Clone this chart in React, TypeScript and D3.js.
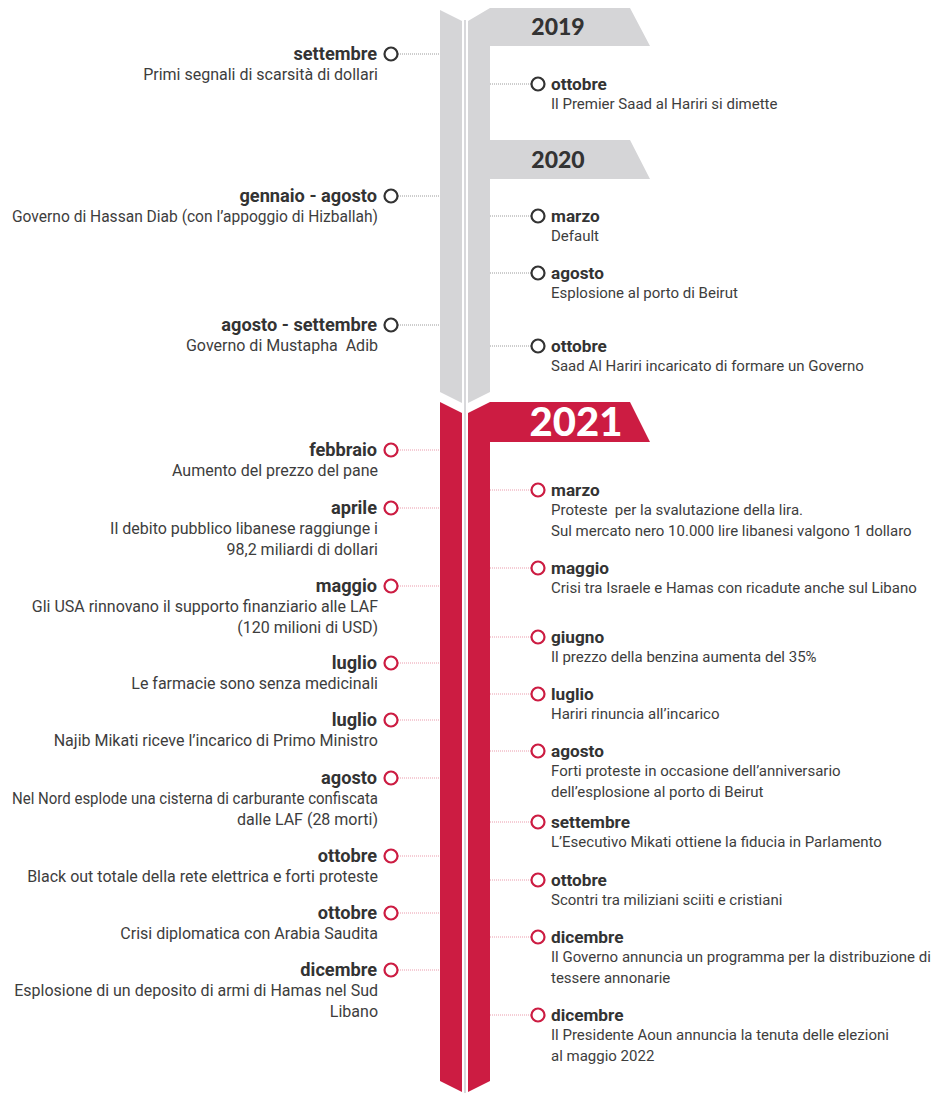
import React, { useEffect, useRef } from "react";
import * as d3 from "d3";

// timeline events, position = estimated vertical place on the timeline
const leftEvents = [
  { month: "settembre", text: ["Primi segnali di scarsità di dollari"], pos: 54, year: 2019 },
  { month: "gennaio - agosto", text: ["Governo di Hassan Diab (con l’appoggio di Hizballah)"], pos: 196, year: 2020 },
  { month: "agosto - settembre", text: ["Governo di Mustapha  Adib"], pos: 325, year: 2020 },
  { month: "febbraio", text: ["Aumento del prezzo del pane"], pos: 450, year: 2021 },
  { month: "aprile", text: ["Il debito pubblico libanese raggiunge i", "98,2 miliardi di dollari"], pos: 508, year: 2021 },
  { month: "maggio", text: ["Gli USA rinnovano il supporto finanziario alle LAF", "(120 milioni di USD)"], pos: 586, year: 2021 },
  { month: "luglio", text: ["Le farmacie sono senza medicinali"], pos: 663, year: 2021 },
  { month: "luglio", text: ["Najib Mikati riceve l’incarico di Primo Ministro"], pos: 720, year: 2021 },
  { month: "agosto", text: ["Nel Nord esplode una cisterna di carburante confiscata", "dalle LAF (28 morti)"], pos: 778, year: 2021 },
  { month: "ottobre", text: ["Black out totale della rete elettrica e forti proteste"], pos: 856, year: 2021 },
  { month: "ottobre", text: ["Crisi diplomatica con Arabia Saudita"], pos: 913, year: 2021 },
  { month: "dicembre", text: ["Esplosione di un deposito di armi di Hamas nel Sud", "Libano"], pos: 970, year: 2021 },
];

const rightEvents = [
  { month: "ottobre", text: ["Il Premier Saad al Hariri si dimette"], pos: 84, year: 2019 },
  { month: "marzo", text: ["Default"], pos: 216, year: 2020 },
  { month: "agosto", text: ["Esplosione al porto di Beirut"], pos: 273, year: 2020 },
  { month: "ottobre", text: ["Saad Al Hariri incaricato di formare un Governo"], pos: 346, year: 2020 },
  { month: "marzo", text: ["Proteste  per la svalutazione della lira.", "Sul mercato nero 10.000 lire libanesi valgono 1 dollaro"], pos: 490, year: 2021 },
  { month: "maggio", text: ["Crisi tra Israele e Hamas con ricadute anche sul Libano"], pos: 568, year: 2021 },
  { month: "giugno", text: ["Il prezzo della benzina aumenta del 35%"], pos: 637, year: 2021 },
  { month: "luglio", text: ["Hariri rinuncia all’incarico"], pos: 694, year: 2021 },
  { month: "agosto", text: ["Forti proteste in occasione dell’anniversario", "dell’esplosione al porto di Beirut"], pos: 751, year: 2021 },
  { month: "settembre", text: ["L’Esecutivo Mikati ottiene la fiducia in Parlamento"], pos: 822, year: 2021 },
  { month: "ottobre", text: ["Scontri tra miliziani sciiti e cristiani"], pos: 880, year: 2021 },
  { month: "dicembre", text: ["Il Governo annuncia un programma per la distribuzione di", "tessere annonarie"], pos: 937, year: 2021 },
  { month: "dicembre", text: ["Il Presidente Aoun annuncia la tenuta delle elezioni", "al maggio 2022"], pos: 1015, year: 2021 },
];

// year flags: label and where its flag starts / ends on the timeline
const years = ["2019", "2020", "2021"];
const yearStart = [8, 140, 402];
const yearEnd = [46, 179, 442];

// spine segments: gray for 2019-2020, red for 2021
const segStart = [8, 402];
const segEnd = [403, 1092];
const segColor = ["#d5d5d7", "#cc1c42"];

const width = 936;
const height = 1093;

export default function App() {
  const svgRef = useRef<SVGSVGElement>(null);
  const y = d3.scaleLinear().domain([0, height]).range([0, height]);

  // spine geometry
  const lx0 = 440, lx1 = 462, rx0 = 468, rx1 = 490;
  const mid = 465;
  const flagTopRight = 630, flagBotRight = 650;
  const notch = 11;

  const red = "#cc1c42";
  const ink = "#333333";
  const inkLight = "#3d3d3d";
  const font = "Roboto, 'Noto Sans', sans-serif";

  const isRed = (yr: number) => yr === 2021;

  // squeeze left descriptions that would run past the left edge
  useEffect(() => {
    const maxW = 366;
    d3.select(svgRef.current)
      .selectAll<SVGTextElement, unknown>("text.desc-left")
      .each(function () {
        const w = this.getComputedTextLength();
        if (w > maxW) {
          d3.select(this).attr("textLength", maxW).attr("lengthAdjust", "spacingAndGlyphs");
        }
      });
  }, []);

  const segments = segStart.map((s, i) => {
    const top = y(s);
    const bot = y(segEnd[i]);
    const left = `M${lx0},${top + (i === 0 ? 2 : 0)} L${lx1},${top + notch + (i === 0 ? 2 : 0)} L${lx1},${bot} L${lx0},${bot - notch} Z`;
    // right band with flags attached
    const flags = years
      .map((yr, j) => ({ yr, j }))
      .filter(({ yr }) => (i === 0 ? yr !== "2021" : yr === "2021"));
    let p = `M${rx0},${top + notch + (i === 0 ? 2 : 0)} L${rx1},${top}`;
    flags.forEach(({ j }) => {
      const ft = y(yearStart[j]);
      const fb = y(yearEnd[j]);
      p += ` L${rx1},${ft} L${flagTopRight},${ft} L${flagBotRight},${fb} L${rx1},${fb}`;
    });
    p += ` L${rx1},${bot - notch} L${rx0},${bot} Z`;
    return { left, right: p, color: segColor[i] };
  });

  return (
    <svg
      ref={svgRef}
      width={width}
      height={height}
      style={{ position: "absolute", left: 0, top: 0, background: "#fff" }}
      fontFamily={font}
    >
      {segments.map((s, i) => (
        <g key={i} fill={s.color}>
          <path d={s.left} />
          <path d={s.right} />
        </g>
      ))}
      <line x1={mid} x2={mid} y1={y(20)} y2={height} stroke="#cfcfd2" strokeWidth={1.6} />

      {years.map((yr, j) => {
        const big = yr === "2021";
        const ft = y(yearStart[j]);
        const fb = y(yearEnd[j]);
        return (
          <text
            key={yr}
            x={big ? 576 : 558}
            y={(ft + fb) / 2 + (big ? 14 : 8)}
            textAnchor="middle"
            fontFamily="Lato, 'DejaVu Sans', sans-serif"
            fontWeight={900}
            fontSize={big ? 40 : 23}
            fill={big ? "#ffffff" : ink}
          >
            {yr}
          </text>
        );
      })}

      {leftEvents.map((e, i) => {
        const cy = y(e.pos);
        const r = isRed(e.year);
        const cx = 391;
        return (
          <g key={"l" + i}>
            <line
              x1={cx + 7}
              x2={lx0}
              y1={cy}
              y2={cy}
              stroke={r ? "#eb9aab" : "#9a9a9a"}
              strokeWidth={1}
              strokeDasharray="1,1"
            />
            <circle cx={cx} cy={cy} r={6.5} fill="#fff" stroke={r ? red : ink} strokeWidth={2.2} />
            <text x={377} y={cy + 6} textAnchor="end" fontWeight={700} fontSize={18.2} fill={ink}>
              {e.month}
            </text>
            {e.text.map((t, k) => (
              <text
                key={k}
                className="desc-left"
                x={378}
                y={cy + 26 + k * 21}
                textAnchor="end"
                fontSize={16}
                fill={inkLight}
                style={{ whiteSpace: "pre" }}
              >
                {t}
              </text>
            ))}
          </g>
        );
      })}

      {rightEvents.map((e, i) => {
        const cy = y(e.pos);
        const r = isRed(e.year);
        const cx = 538;
        return (
          <g key={"r" + i}>
            <line
              x1={rx1}
              x2={cx - 7}
              y1={cy}
              y2={cy}
              stroke={r ? "#eb9aab" : "#9a9a9a"}
              strokeWidth={1}
              strokeDasharray="1,1"
            />
            <circle cx={cx} cy={cy} r={6.5} fill="#fff" stroke={r ? red : ink} strokeWidth={2.2} />
            <text x={551} y={cy + 6} fontWeight={700} fontSize={17.2} fill={ink}>
              {e.month}
            </text>
            {e.text.map((t, k) => (
              <text key={k} x={551} y={cy + 25 + k * 21} fontSize={15} fill={inkLight} style={{ whiteSpace: "pre" }}>
                {t}
              </text>
            ))}
          </g>
        );
      })}
    </svg>
  );
}
